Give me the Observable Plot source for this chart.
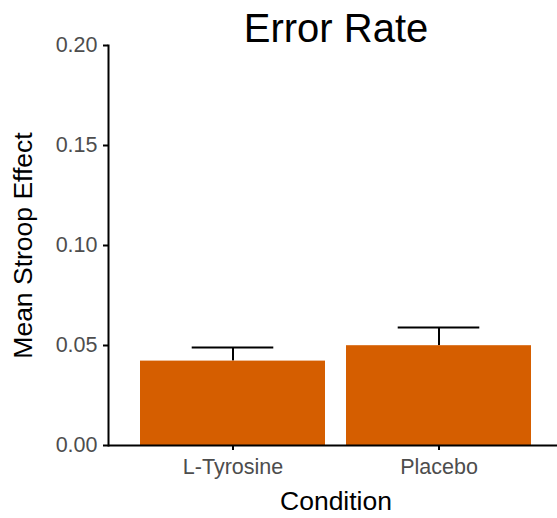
<!DOCTYPE html>
<html><head><meta charset="utf-8">
<script src="https://cdn.jsdelivr.net/npm/d3@7"></script>
<script src="https://cdn.jsdelivr.net/npm/@observablehq/plot@0.6"></script>
<style>body{margin:0;background:#fff} svg{display:block}</style>
</head><body><div id="chart"></div>
<script>
const conditions = ["L-Tyrosine", "Placebo"];
const means = [0.0422, 0.0499];
const uppers = [0.0490, 0.0590];
const yTicks = [0, 0.05, 0.10, 0.15, 0.20];
const title = "Error Rate";
const xTitle = "Condition";
const yTitle = "Mean Stroop Effect";

const data = conditions.map((c, i) => ({condition: c, mean: means[i], upper: uppers[i]}));

const W = 557, H = 518, mL = 108, mT = 45, mB = 73, mR = 0;
const xRange = [108, 563];
const step = (xRange[1] - xRange[0]) / 2.2;
const band = 0.9 * step;
const capInset = (band - 0.4 * step) / 2;
const font = "'Liberation Sans', Arial, sans-serif";

const chart = Plot.plot({
  width: W, height: H, marginLeft: mL, marginRight: mR, marginTop: mT, marginBottom: mB,
  style: {fontFamily: font, background: "#fff", overflow: "visible"},
  x: {domain: conditions, range: xRange, paddingInner: 0.1, paddingOuter: 0.15, label: null},
  y: {domain: [0, 0.2], label: null},
  marks: [
    Plot.ruleX(data, {x: "condition", y1: "mean", y2: "upper", stroke: "#000", strokeWidth: 2}),
    Plot.tickY(data, {x: "condition", y: "upper", stroke: "#000", strokeWidth: 2, insetLeft: capInset, insetRight: capInset}),
    Plot.barY(data, {x: "condition", y: "mean", fill: "#D55E00"}),
    Plot.axisY({ticks: yTicks, tickFormat: d3.format(".2f"), tickSize: 5, tickPadding: 6, fontSize: 21.5, fill: "#4D4D4D", stroke: "#000", strokeWidth: 2, label: null}),
    Plot.axisX({tickSize: 5, tickPadding: 8, fontSize: 21.5, fill: "#4D4D4D", stroke: "#000", strokeWidth: 2, label: null}),
    Plot.ruleY([0], {stroke: "#000", strokeWidth: 2}),
    Plot.frame({anchor: "left", stroke: "#000", strokeWidth: 2}),
    Plot.text([title], {frameAnchor: "top", text: d => d, fontSize: 40, dx: 3, dy: -16, fill: "#000", lineAnchor: "middle"}),
    Plot.text([xTitle], {frameAnchor: "bottom", text: d => d, fontSize: 26.5, dx: 3, dy: 55.7, fill: "#000", lineAnchor: "middle"}),
    Plot.text([yTitle], {frameAnchor: "left", text: d => d, fontSize: 26.5, dx: -84.5, rotate: -90, textAnchor: "middle", fill: "#000", lineAnchor: "middle"})
  ]
});
document.getElementById("chart").appendChild(chart);
</script>
</body></html>
